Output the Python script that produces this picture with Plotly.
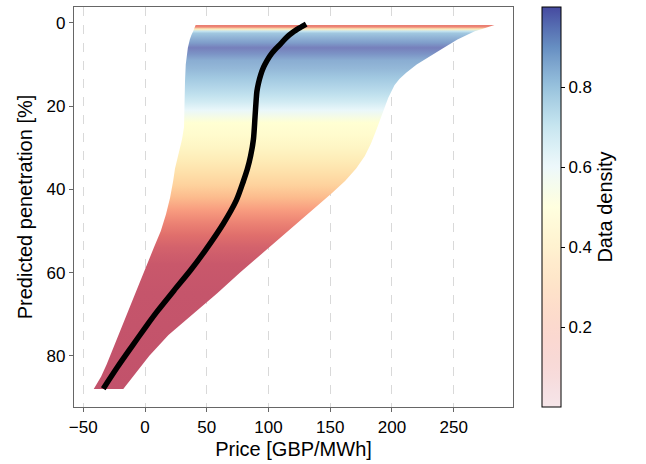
import plotly.graph_objects as go
from plotly.colors import sample_colorscale

# ---------------- data ----------------
# band boundaries (penetration level [%] -> price [GBP/MWh])
left_pen = [0.5, 1.0, 2, 3, 4, 6, 8, 10, 14, 20, 25, 28, 30, 33, 35, 38, 42, 46,
            50, 54, 58, 62, 66, 70, 74, 78, 82, 85, 88]
left_price = [41, 40.5, 39, 37.5, 36.3, 34.7, 33.6, 33, 32.4, 32, 31.6, 30, 28.5,
              25.8, 24.3, 22.8, 20.3, 17, 12.8, 7.2, 1.5, -3.8, -9.2, -14.6, -20,
              -25.5, -31, -35.5, -41.5]

right_pen = [0.5, 1.0, 1.5, 2, 3, 4, 6, 8, 10, 12, 13.5, 15, 16.5, 18, 20, 23, 26,
             29, 32, 35, 38, 41, 44, 47, 50, 55, 60, 65, 70, 75, 80, 85, 88]
right_price = [283, 279, 273, 267, 260, 253, 242, 230.5, 220, 211.5, 206, 202, 199.2,
               197, 194.5, 190.5, 187, 183, 178, 171, 162, 151, 139, 127.5, 116.5,
               96.5, 77, 58.5, 39, 19, 3.5, -9.5, -17.6]

# data density along penetration
dens_pen = [0.5, 1.0, 1.5, 2.0, 2.5, 3.5, 4.8, 6.0, 7.5, 9, 11, 13, 15, 17, 19, 21,
            22.5, 24, 27, 30, 33, 36, 39, 42, 45, 48, 51, 54, 58, 65, 88]
dens_val = [0.12, 0.15, 0.42, 0.7, 0.8, 0.85, 0.91, 0.98, 0.93, 0.87, 0.84, 0.8,
            0.76, 0.72, 0.67, 0.6, 0.55, 0.5, 0.48, 0.45, 0.41, 0.37, 0.33, 0.27,
            0.2, 0.14, 0.09, 0.05, 0.02, 0.01, 0.0]

# mean curve
line_pen = [0.3, 1.2, 2.2, 3.5, 5, 6.2, 7.4, 9, 10.6, 12.5, 14.6, 16.5, 18.6, 22.6,
            28, 32, 35, 38, 42.6, 48.2, 54.6, 59.4, 64.3, 69.1, 73.1, 77.9, 82.7,
            87.9]
line_price = [130.5, 125.3, 120, 114.6, 110, 106, 102.5, 98.9, 96.1, 93.7, 91.8,
              90.6, 90, 89.1, 87.8, 85.5, 83, 79.7, 74, 63.5, 49, 37, 23.5, 10.5,
              0.5, -11, -22.3, -33.8]

x_ticks = [-50, 0, 50, 100, 150, 200, 250]
y_ticks = [0, 20, 40, 60, 80]
cbar_ticks = [0.2, 0.4, 0.6, 0.8]

# ---------------- styles ----------------
RDYLBU = ["#a50026", "#d73027", "#f46d43", "#fdae61", "#fee090", "#ffffbf",
          "#e0f3f8", "#abd9e9", "#74add1", "#4575b4", "#313695"]
base_scale = [[i / 10, c] for i, c in enumerate(RDYLBU)]


def blend(rgb_str, a):
    vals = [float(v) for v in rgb_str[rgb_str.index("(") + 1:-1].split(",")]
    r, g, b = [int(round(a * v + (1 - a) * 255)) for v in vals[:3]]
    return f"rgb({r},{g},{b})"


band_alpha = 0.68
p0, p1 = dens_pen[0], dens_pen[-1]
band_colors = sample_colorscale(base_scale, dens_val)
band_scale = [[(p - p0) / (p1 - p0), blend(c, band_alpha)]
              for p, c in zip(dens_pen, band_colors)]

cb_pos = [i / 40 for i in range(41)]
cb_cols = sample_colorscale(base_scale, cb_pos)
cbar_scale = [[v, blend(c, 0.1 + 0.8 * v)] for v, c in zip(cb_pos, cb_cols)]

FONT = "Liberation Sans, Arial, Helvetica, sans-serif"

fig = go.Figure()

# band polygon: down the left boundary, up the right boundary
poly_x = left_price + right_price[::-1]
poly_y = left_pen + right_pen[::-1]
fig.add_trace(go.Scatter(
    x=poly_x, y=poly_y, mode="lines", fill="toself",
    line=dict(width=0),
    fillgradient=dict(type="vertical", colorscale=band_scale, start=p0, stop=p1),
    hoverinfo="skip", showlegend=False))

fig.add_trace(go.Scatter(
    x=line_price, y=line_pen, mode="lines",
    line=dict(color="black", width=5.5, shape="spline", smoothing=0.8),
    showlegend=False))

# colorbar carrier
fig.add_trace(go.Scatter(
    x=[None], y=[None], mode="markers",
    marker=dict(color=[0.5], cmin=0, cmax=1, colorscale=cbar_scale, showscale=True,
                colorbar=dict(
                    thickness=19, len=1, lenmode="fraction", y=0.5, yanchor="middle",
                    ypad=0, x=1.065, xanchor="left", xpad=0,
                    outlinewidth=1, outlinecolor="black",
                    ticks="outside", ticklen=4, tickcolor="black",
                    tickvals=cbar_ticks, ticktext=[f"{v:.1f}" for v in cbar_ticks],
                    tickfont=dict(size=17, color="black", family=FONT),
                    title=dict(text="Data density", side="right",
                               font=dict(size=20, color="black", family=FONT)))),
    showlegend=False, hoverinfo="skip"))

fig.update_layout(
    width=646, height=464,
    margin=dict(l=74, r=133, t=7, b=57),
    paper_bgcolor="white", plot_bgcolor="white",
    font=dict(family=FONT, size=17, color="black"),
    xaxis=dict(
        range=[-57.5, 298], tickvals=x_ticks,
        ticktext=[f"\u2212{abs(v)}" if v < 0 else str(v) for v in x_ticks],
        showgrid=True, gridcolor="#d9d9d9", griddash="dash", gridwidth=1,
        zeroline=False, showline=True, mirror=True, linecolor="#666666", linewidth=1.3,
        ticks="outside", ticklen=4, tickcolor="#666666",
        tickfont=dict(size=17),
        title=dict(text="Price [GBP/MWh]", font=dict(size=20), standoff=6)),
    yaxis=dict(
        range=[92.3, -3.8], tickvals=y_ticks,
        showgrid=False, zeroline=False, showline=True, mirror=True,
        linecolor="#666666", linewidth=1.3,
        ticks="outside", ticklen=4, tickcolor="#666666",
        tickfont=dict(size=17),
        title=dict(text="Predicted penetration [%]", font=dict(size=20), standoff=8)),
)

fig.write_html("out.html")
